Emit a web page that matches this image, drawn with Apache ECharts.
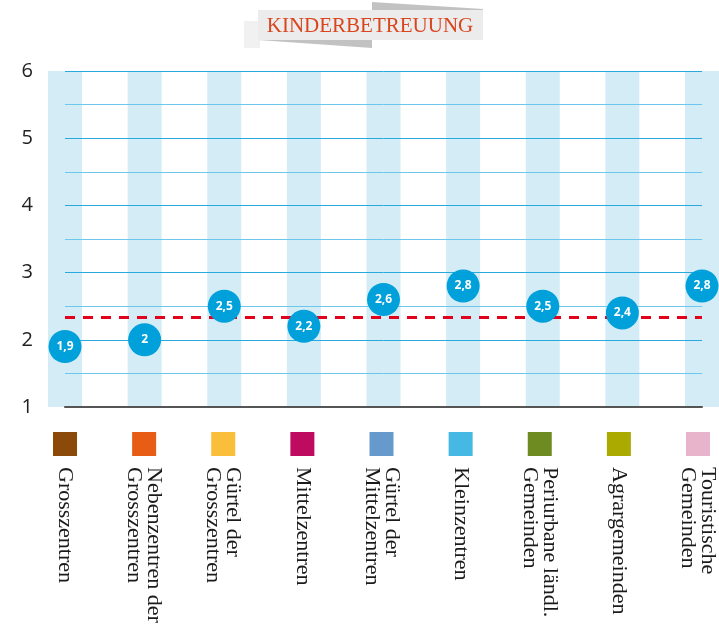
<!DOCTYPE html>
<html>
<head>
<meta charset="utf-8">
<script src="https://cdn.jsdelivr.net/npm/echarts@6/dist/echarts.min.js"></script>
<style>
html,body{margin:0;padding:0;background:#fff;}
#chart{width:719px;height:637px;}
</style>
</head>
<body>
<div id="chart"></div>
<script>
// ---- data ----
const titleText = 'KINDERBETREUUNG';
const categories = [
  'Grosszentren',
  'Nebenzentren der\nGrosszentren',
  'Gürtel der\nGrosszentren',
  'Mittelzentren',
  'Gürtel der\nMittelzentren',
  'Kleinzentren',
  'Periurbane ländl.\nGemeinden',
  'Agrargemeinden',
  'Touristische\nGemeinden'
];
const values = [1.9, 2, 2.5, 2.2, 2.6, 2.8, 2.5, 2.4, 2.8];
const referenceValue = 2.33;
const yMin = 1;
const yMax = 6;
const yInterval = 1;

// ---- styles ----
const regionColors = ['#8B4A0A', '#E85D16', '#F9BE3A', '#BE0A5F', '#6699CC', '#45B8E3', '#6E8B22', '#AAAA00', '#E8B4CB'];
const serifFont = '"Liberation Serif", "DejaVu Serif", serif';

const chart = echarts.init(document.getElementById('chart'), null, {renderer: 'canvas'});

const option = {
  animation: false,
  backgroundColor: '#ffffff',
  graphic: [
    {type: 'rect', shape: {x: 244, y: 21, width: 16, height: 27}, style: {fill: '#F1F1F2'}, z: 1},
    {type: 'polygon', shape: {points: [[258, 40], [372, 40], [372, 48]]}, style: {fill: '#C2C2C3'}, z: 1},
    {type: 'polygon', shape: {points: [[372, 2], [483, 9], [483, 10], [372, 10]]}, style: {fill: '#C2C2C3'}, z: 1},
    {type: 'rect', shape: {x: 258, y: 10, width: 225, height: 30}, style: {fill: '#ECECED'}, z: 2},
    {type: 'text', x: 370, y: 26, z: 3,
      style: {text: titleText, fill: '#D9461E', font: '21px ' + serifFont, align: 'center', verticalAlign: 'middle'}}
  ],
  grid: [
    {left: 65, right: 17, top: 71, bottom: 230},
    {left: 65, right: 17, top: 432, height: 24}
  ],
  xAxis: [
    {
      type: 'category', gridIndex: 0, data: categories, boundaryGap: false,
      axisLine: {show: true, lineStyle: {color: '#555555', width: 2}},
      axisTick: {show: false}, axisLabel: {show: false}, splitLine: {show: false}
    },
    {
      type: 'category', gridIndex: 1, data: categories, boundaryGap: false,
      axisLine: {show: false}, axisTick: {show: false}, splitLine: {show: false},
      axisLabel: {
        show: true, rotate: -90, margin: 11, interval: 0,
        fontFamily: serifFont, fontSize: 22, lineHeight: 20, color: '#1a1a1a'
      }
    }
  ],
  yAxis: [
    {
      type: 'value', gridIndex: 0, min: yMin, max: yMax, interval: yInterval,
      axisLine: {show: false}, axisTick: {show: false},
      axisLabel: {margin: 32, fontFamily: 'Open Sans', fontSize: 20, color: '#222222'},
      splitLine: {show: true, lineStyle: {color: '#2AA9DF', width: 1}},
      minorTick: {show: false, splitNumber: 2},
      minorSplitLine: {show: true, lineStyle: {color: '#6BC8EC', width: 1}}
    },
    {
      type: 'value', gridIndex: 1, min: 0, max: 1,
      show: false
    }
  ],
  series: [
    {
      name: 'bandBase', type: 'bar', stack: 'band', xAxisIndex: 0, yAxisIndex: 0,
      barWidth: 34, clip: false, z: -2, silent: true,
      itemStyle: {color: 'rgba(0,0,0,0)'},
      data: categories.map(() => yMin)
    },
    {
      name: 'band', type: 'bar', stack: 'band', xAxisIndex: 0, yAxisIndex: 0,
      barWidth: 34, clip: false, z: -2, silent: true,
      itemStyle: {color: '#D4ECF6'},
      data: categories.map(() => yMax - yMin)
    },
    {
      name: 'reference', type: 'line', xAxisIndex: 0, yAxisIndex: 0, data: [], z: 3,
      markLine: {
        silent: true, symbol: ['none', 'none'], label: {show: false},
        lineStyle: {color: '#E3001B', width: 3, type: [10, 8]},
        data: [{yAxis: referenceValue}]
      }
    },
    {
      name: 'Kinderbetreuung', type: 'scatter', xAxisIndex: 0, yAxisIndex: 0,
      symbol: 'circle', symbolSize: 33, clip: false, z: 5,
      itemStyle: {color: '#00A0DA', opacity: 1},
      label: {
        show: true, position: 'inside', color: '#ffffff', fontWeight: 'bold',
        fontFamily: 'Open Sans', fontSize: 12,
        formatter: p => String(p.value).replace('.', ',')
      },
      data: values
    },
    {
      name: 'regions', type: 'scatter', xAxisIndex: 1, yAxisIndex: 1,
      symbol: 'rect', symbolSize: 24, clip: false, silent: true,
      itemStyle: {opacity: 1},
      data: categories.map((c, i) => ({value: 0.5, itemStyle: {color: regionColors[i], opacity: 1}}))
    }
  ]
};
chart.setOption(option);
</script>
</body>
</html>
